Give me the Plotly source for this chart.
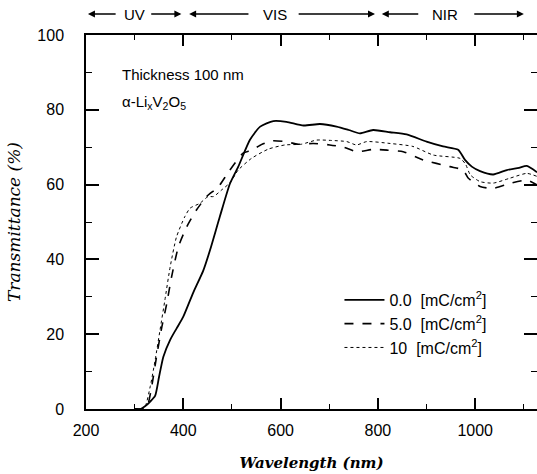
import plotly.graph_objects as go

# Wavelength (nm) / transmittance (%) for each charge density
wl_0 = [300, 312, 322, 332, 342, 350, 359, 373, 386, 400, 420, 441, 455, 475, 496, 513, 537, 558, 585,
        612, 647, 681, 715, 740, 763, 790, 825, 859, 900, 934, 965, 979, 993, 1010, 1037, 1065, 1090, 1106, 1127]
t_0 = [0, 0, 0.8, 2.0, 3.5, 8.5, 14, 18.5, 21.5, 24.7, 31, 37, 42.5, 51.4, 60.3, 64.8, 72, 75.5, 77,
       76.8, 75.8, 76.2, 75.5, 74.6, 73.7, 74.6, 74, 73.4, 71.5, 70.2, 69.3, 66.6, 64.8, 63.6, 62.7, 63.9, 64.5, 65, 63.3]

wl_5 = [300, 312, 325, 335, 345, 356, 366, 376, 390, 407, 427, 448, 472, 493, 523, 540, 562, 582, 609,
        636, 667, 701, 730, 756, 790, 820, 852, 893, 948, 975, 986, 1010, 1037, 1071, 1106, 1127]
t_5 = [0, 0, 0.5, 6, 14, 22, 28.2, 35.4, 43.4, 48.7, 53.2, 56.8, 59.4, 63.4, 68.4, 69.2, 70.8, 71.7, 71.5,
       70.8, 71, 70.6, 70.0, 68.8, 69.4, 69.2, 68.8, 66.6, 64.8, 63.9, 61.7, 59.5, 59, 60.3, 61.2, 59.9]

wl_10 = [300, 312, 321, 332, 342, 352, 362, 373, 386, 403, 414, 434, 451, 462, 479, 496, 513, 540, 575,
         609, 643, 674, 705, 736, 756, 777, 825, 872, 914, 969, 980, 990, 1010, 1037, 1071, 1106, 1127]
t_10 = [0, 0, 0.5, 6, 13, 21, 29, 38, 46, 51.4, 53.7, 55, 56.8, 56.8, 58.6, 60.5, 63.9, 67, 69.5,
        70.6, 70.8, 71.9, 71.8, 71.5, 70.6, 71.5, 71, 70.2, 67.9, 67, 65.5, 62.6, 60.8, 60.4, 61.7, 63, 62.2]

series_names = ["0.0  [mC/cm<sup>2</sup>]", "5.0  [mC/cm<sup>2</sup>]", "10  [mC/cm<sup>2</sup>]"]

x_ticks = [200, 400, 600, 800, 1000]
y_ticks = [0, 20, 40, 60, 80, 100]

fig = go.Figure()
fig.add_trace(go.Scatter(x=wl_0, y=t_0, mode="lines", name=series_names[0],
                         line=dict(color="black", width=1.8, shape="spline", smoothing=0.6)))
fig.add_trace(go.Scatter(x=wl_5, y=t_5, mode="lines", name=series_names[1],
                         line=dict(color="black", width=1.6, dash="dash", shape="spline", smoothing=0.6)))
fig.add_trace(go.Scatter(x=wl_10, y=t_10, mode="lines", name=series_names[2],
                         line=dict(color="black", width=1, dash="dot", shape="spline", smoothing=0.6)))

axis_common = dict(showgrid=False, zeroline=False, showline=True, linecolor="black", linewidth=1.5,
                   mirror="allticks", ticks="inside", tickcolor="black", tickwidth=1.5, automargin=False,
                   tickfont=dict(family="Liberation Sans", size=16, color="black"))

fig.update_xaxes(range=[200, 1127], tickvals=x_ticks, ticklen=11,
                 minor=dict(dtick=100, tick0=200, ticks="inside", ticklen=5, tickcolor="black", tickwidth=1.2),
                 title=dict(text="<b><i>Wavelength (nm)</i></b>", font=dict(family="DejaVu Serif", size=15, color="black"),
                            standoff=20),
                 ticklabelstandoff=6, **axis_common)
fig.update_yaxes(range=[0, 100], tickvals=y_ticks, ticklen=13,
                 minor=dict(dtick=10, tick0=0, ticks="inside", ticklen=6, tickcolor="black", tickwidth=1.2),
                 title=dict(text="<i>Transmittance (%)</i>", font=dict(family="DejaVu Serif", size=17, color="black"),
                            standoff=12),
                 ticklabelstandoff=17, **axis_common)

ann_font = dict(family="Liberation Sans", size=15, color="black")
annotations = [
    dict(x=0.075, y=0.895, xref="paper", yref="paper", text="Thickness 100 nm", showarrow=False,
         xanchor="left", yanchor="middle", font=ann_font),
    dict(x=0.075, y=0.82, xref="paper", yref="paper",
         text="α-Li<sub>x</sub>V<sub>2</sub>O<sub>5</sub>", showarrow=False,
         xanchor="left", yanchor="middle", font=ann_font),
]
# region labels at the top with arrows
ytop = 1.056
regions = [("UV", 299, (204, 264), (331, 396)), ("VIS", 588, (412, 537), (634, 794)),
           ("NIR", 938, (808, 886), (995, 1100))]
for label, xc, (l_end, l_start), (r_start, r_end) in regions:
    annotations.append(dict(x=xc, y=ytop, xref="x", yref="paper", text=label, showarrow=False,
                            font=ann_font, xanchor="center", yanchor="middle"))
    annotations.append(dict(x=l_end, y=ytop, xref="x", yref="paper", ax=l_start, ay=0, axref="x", ayref="pixel",
                            text="", showarrow=True, arrowhead=2, arrowsize=1, arrowwidth=1.4, arrowcolor="black"))
    annotations.append(dict(x=r_end, y=ytop, xref="x", yref="paper", ax=r_start, ay=0, axref="x", ayref="pixel",
                            text="", showarrow=True, arrowhead=2, arrowsize=1, arrowwidth=1.4, arrowcolor="black"))

fig.update_layout(
    width=537, height=474,
    margin=dict(l=86, r=0, t=35, b=65, autoexpand=False),
    plot_bgcolor="white", paper_bgcolor="white",
    annotations=annotations,
    legend=dict(x=0.562, y=0.337, xanchor="left", yanchor="top", bgcolor="rgba(0,0,0,0)",
                font=dict(family="Liberation Sans", size=16, color="black"), tracegroupgap=0,
                itemwidth=40),
    showlegend=True,
)

# remove the page's default body margin so the figure sits at the window's top-left corner
fig.write_html("out.html", config={"displayModeBar": False},
               post_script="document.body.style.margin='0';document.body.style.overflow='hidden';")
